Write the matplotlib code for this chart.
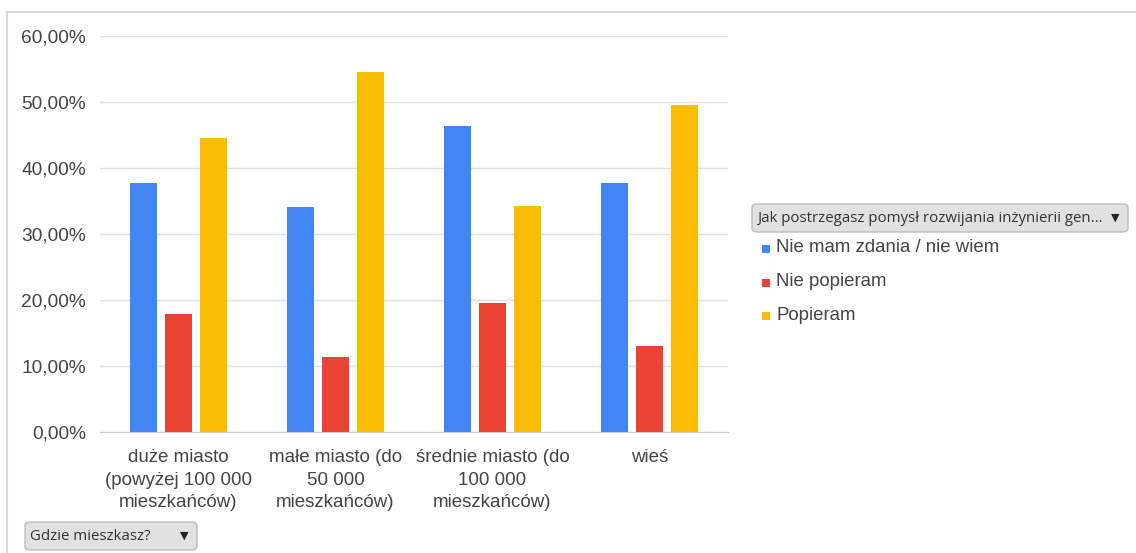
import matplotlib.pyplot as plt
import matplotlib.ticker as ticker
from matplotlib.patches import FancyBboxPatch, Rectangle
from matplotlib.lines import Line2D
import numpy as np

# dane
categories = ['duże miasto\n(powyżej 100 000\nmieszkańców)',
              'małe miasto (do\n50 000\nmieszkańców)',
              'średnie miasto (do\n100 000\nmieszkańców)',
              'wieś']
series_names = ['Nie mam zdania / nie wiem', 'Nie popieram', 'Popieram']
nie_wiem = [0.377, 0.341, 0.464, 0.377]
nie_popieram = [0.179, 0.114, 0.195, 0.130]
popieram = [0.445, 0.545, 0.342, 0.495]
colors = ['#4285F4', '#EA4335', '#FBBC04']

plt.rcParams['font.family'] = ['Liberation Sans', 'DejaVu Sans']

fig = plt.figure(figsize=(11.36, 5.53), dpi=100, facecolor='white')
ax = fig.add_axes([100 / 1136, 1 - 432 / 553, 628 / 1136, 396 / 553])

x = np.arange(len(categories))
width = 0.178
step = 0.223
for i, vals in enumerate([nie_wiem, nie_popieram, popieram]):
    ax.bar(x + (i - 1) * step, vals, width=width, color=colors[i], zorder=3)

ax.set_xlim(-0.5, 3.5)
ax.set_ylim(0, 0.6)
ax.set_yticks(np.arange(0, 0.61, 0.1))
ax.yaxis.set_major_formatter(ticker.FuncFormatter(lambda v, p: ('%.2f%%' % (v * 100)).replace('.', ',')))
ax.set_xticks(x)
ax.set_xticklabels(categories, linespacing=1.45)
ax.tick_params(axis='both', length=0, labelcolor='#444444')
ax.tick_params(axis='y', pad=10, labelsize=13.8)
ax.tick_params(axis='x', pad=12, labelsize=13.5)
ax.grid(axis='y', color='#e0e0e0', linewidth=1, zorder=0)
for s in ['top', 'right', 'left']:
    ax.spines[s].set_visible(False)
ax.spines['bottom'].set_color('#cccccc')

# ramka
fig.add_artist(Line2D([7 / 1136, 7 / 1136], [0, 1 - 12 / 553], color='#d9d9d9', lw=1.5))
fig.add_artist(Line2D([7 / 1136, 1], [1 - 12 / 553, 1 - 12 / 553], color='#d9d9d9', lw=1.5))


def dropdown(x0, y0, x1, y1, label):
    W, H = 1136, 553
    box = FancyBboxPatch((x0 / W, 1 - y1 / H), (x1 - x0) / W, (y1 - y0) / H,
                         boxstyle='round,pad=0,rounding_size=0.006',
                         transform=fig.transFigure, facecolor='#e1e1e1',
                         edgecolor='#bdbdbd', lw=1)
    fig.add_artist(box)
    yc = 1 - (y0 + y1) / 2 / H
    fig.text((x0 + 5) / W, yc, label, fontsize=10.8, color='#333333',
             va='center', ha='left', family=['Open Sans', 'DejaVu Sans'])
    fig.text((x1 - 13) / W, yc, '▼', fontsize=8, color='#222222',
             va='center', ha='center', family='DejaVu Sans')


dropdown(752, 204, 1128, 232, 'Jak postrzegasz pomysł rozwijania inżynierii gen...')
dropdown(25, 522, 197, 550, 'Gdzie mieszkasz?')

# legenda
for i, name in enumerate(series_names):
    yc = 249 + i * 33.5
    fig.add_artist(Rectangle((762 / 1136, 1 - (yc + 4) / 553), 8 / 1136, 8 / 553,
                             transform=fig.transFigure, facecolor=colors[i], edgecolor='none'))
    fig.text(776 / 1136, 1 - (yc - 1) / 553, name, fontsize=13.4, color='#444444',
             va='center', ha='left')

fig.savefig('out.png', dpi=100)
